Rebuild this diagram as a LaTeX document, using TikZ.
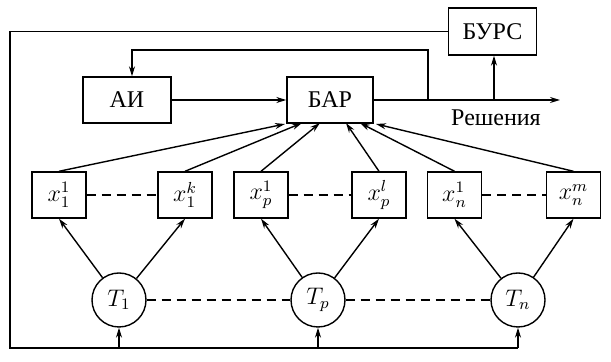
\documentclass[tikz,border=0pt]{standalone}
\usepackage{fontspec}
\setmainfont{Liberation Serif}
\usepackage{amsmath}
\usetikzlibrary{arrows.meta,positioning}

\begin{document}
\begin{tikzpicture}[x=0.5pt,y=-0.5pt,line width=0.7pt,
  font=\fontsize{12}{14}\selectfont,
  arr/.style={-{Stealth[length=5pt,width=3pt]}},
  dashline/.style={dash pattern=on 4.5pt off 3pt},
  blk/.style={draw,rectangle,inner sep=0pt,minimum width=44pt,minimum height=23pt},
  var/.style={draw,rectangle,inner sep=0pt,minimum width=27pt,minimum height=23pt},
  src/.style={draw,circle,inner sep=0pt,minimum size=27pt}]
  \useasboundingbox (0,0) rectangle (611,362);
  % blocks
  \node[blk] (ai) at (127,100) {АИ};
  \node[blk,minimum width=43pt] (bar) at (330,100) {БАР};
  \node[blk,minimum height=23.5pt] (burs) at (492.5,31.5) {БУРС};
  \node (res) at (496,118) {Решения};
  % variables
  \node[var] (x11) at (59,195) {$x_1^1$};
  \node[var] (x1k) at (185,195) {$x_1^k$};
  \node[var] (xp1) at (261,195) {$x_p^1$};
  \node[var] (xpl) at (379,195) {$x_p^l$};
  \node[var] (xn1) at (454.5,195) {$x_n^1$};
  \node[var] (xnm) at (573.5,195) {$x_n^m$};
  % sources
  \node[src] (t1) at (119,300) {$T_1$};
  \node[src] (tp) at (318,300) {$T_p$};
  \node[src] (tn) at (518,300) {$T_n$};
  % points on the bottom of БАР
  \coordinate (b1) at (285,124);
  \coordinate (b2) at (302,123);
  \coordinate (b3) at (320,123);
  \coordinate (b4) at (346,123);
  \coordinate (b5) at (360,123);
  \coordinate (b6) at (376,124);
  \coordinate (out) at (560,100);
  \coordinate (br) at (428,100);
  \coordinate (bu) at (494,100);
  \coordinate (fb) at (132,50);
  \coordinate (lc) at (10,348);

  \draw[arr] (ai) -- (bar);
  \draw[arr] (bar.east) -- (out);
  \draw[arr] (br) |- (fb) -- (fb |- ai.north);
  \draw[arr] (bu) -- (bu |- burs.south);
  \draw (burs.west) -| (lc) -- (tn |- lc);
  \foreach \t in {t1,tp,tn}
    \draw[arr] (\t |- lc) -- (\t.south);

  \draw[arr] (x11.north) -- (b1);
  \draw[arr] (x1k.north) -- (b2);
  \draw[arr] (xp1.north) -- (b3);
  \draw[arr] (xpl.north) -- (b4);
  \draw[arr] (xn1.north) -- (b5);
  \draw[arr] (xnm.north) -- (b6);

  \draw[arr] (t1) -- (x11.south);
  \draw[arr] (t1) -- (x1k.south);
  \draw[arr] (tp) -- (xp1.south);
  \draw[arr] (tp) -- (xpl.south);
  \draw[arr] (tn) -- (xn1.south);
  \draw[arr] (tn) -- (xnm.south);

  \draw[dashline] (x11) -- (x1k);
  \draw[dashline] (xp1) -- (xpl);
  \draw[dashline] (xn1) -- (xnm);
  \draw[dashline] (t1) -- (tp);
  \draw[dashline] (tp) -- (tn);
\end{tikzpicture}
\end{document}
